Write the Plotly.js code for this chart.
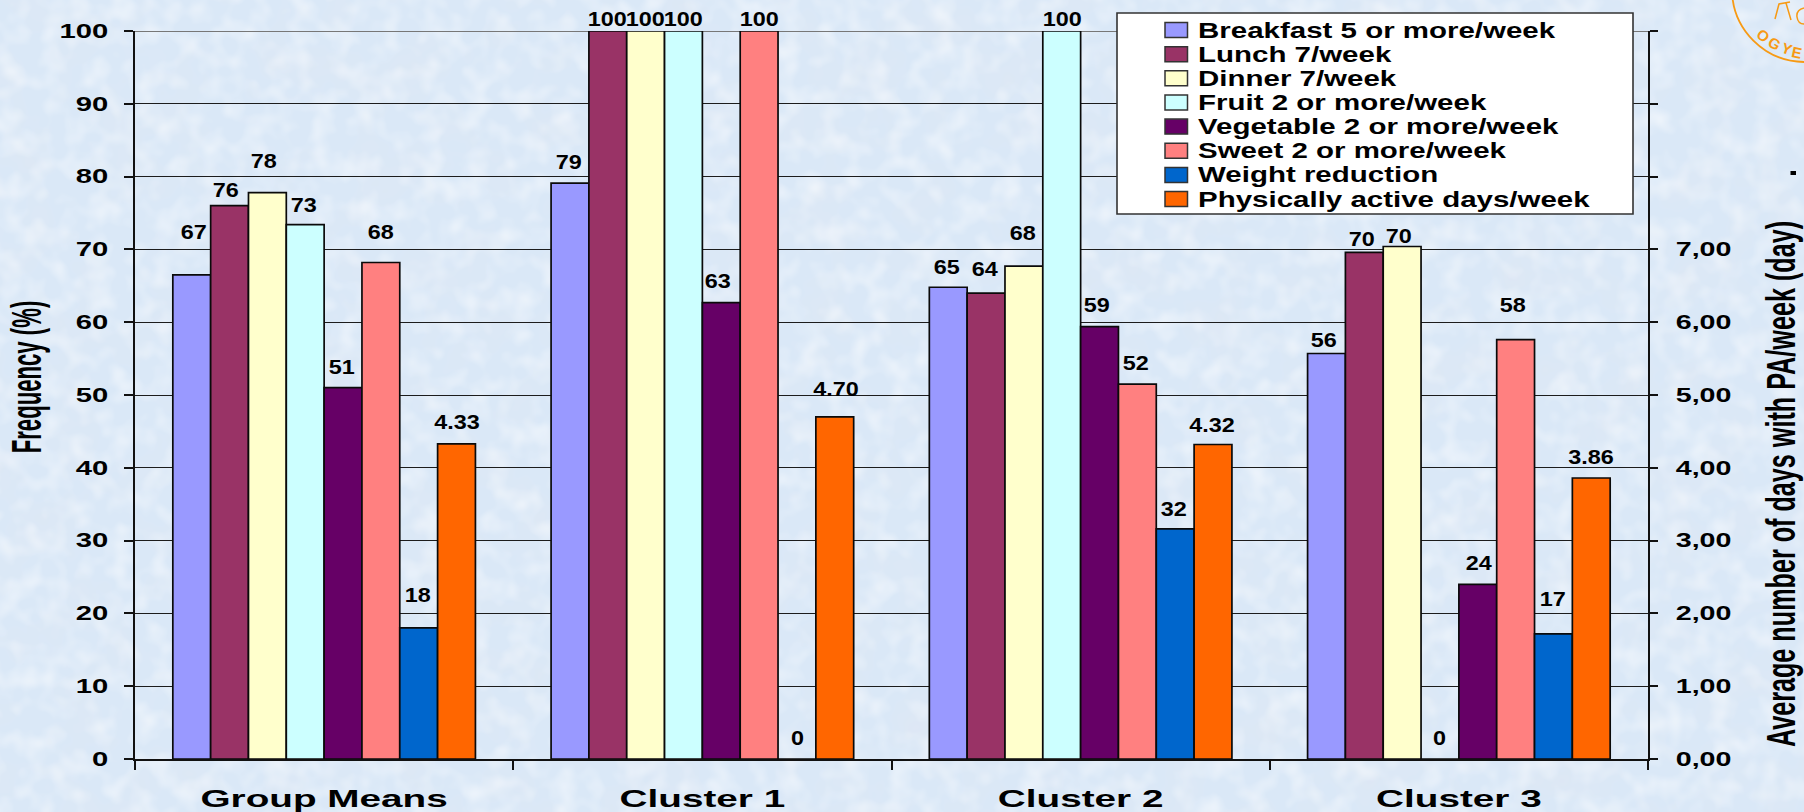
<!DOCTYPE html>
<html>
<head>
<meta charset="utf-8">
<title>Meal frequency and physical activity by cluster</title>
<script src="https://cdn.plot.ly/plotly-3.0.1.min.js"></script>
<style>
  html, body { margin: 0; padding: 0; width: 1804px; height: 812px; overflow: hidden; background: #dce9f7; }
  #paper { position: absolute; left: 0; top: 0; }
  #chart { position: absolute; left: 0; top: 0; width: 1804px; height: 812px; }
</style>
</head>
<body>
<!-- mottled pale blue paper behind the chart -->
<svg id="paper" width="1804" height="812" xmlns="http://www.w3.org/2000/svg">
  <filter id="mottle" x="0" y="0" width="100%" height="100%">
    <feTurbulence type="fractalNoise" baseFrequency="0.02" numOctaves="3" seed="7"/>
    <feColorMatrix type="matrix" values="0 0 0 0 0.74  0 0 0 0 0.80  0 0 0 0 0.90  0 0 0 1.3 -0.56"/>
  </filter>
  <filter id="glow" x="0" y="0" width="100%" height="100%">
    <feTurbulence type="fractalNoise" baseFrequency="0.045" numOctaves="2" seed="21"/>
    <feColorMatrix type="matrix" values="0 0 0 0 1  0 0 0 0 1  0 0 0 0 1  0 0 0 1.0 -0.42"/>
  </filter>
  <rect width="1804" height="812" fill="#dae8f7"/>
  <rect width="1804" height="812" filter="url(#mottle)"/>
  <rect width="1804" height="812" filter="url(#glow)"/>
</svg>
<div id="chart"></div>
<script>
// Chart values
const clusters = ["Group Means", "Cluster 1", "Cluster 2", "Cluster 3"];
const seriesNames = [
  "Breakfast 5 or more/week", "Lunch 7/week", "Dinner 7/week", "Fruit 2 or more/week",
  "Vegetable 2 or more/week", "Sweet 2 or more/week", "Weight reduction", "Physically active days/week"
];
const breakfast = [66.5, 79.1, 64.8, 55.7];
const lunch     = [76.0, 100, 64.0, 69.6];
const dinner    = [77.8, 100, 67.7, 70.4];
const fruit     = [73.4, 100, 100, 0];
const vegetable = [51.0, 62.7, 59.4, 24.0];
const sweet     = [68.2, 100, 51.5, 57.6];
const weightRed = [18.0, 0, 31.6, 17.2];
const activeDays = [4.33, 4.70, 4.32, 3.86];
const seriesValues = [breakfast, lunch, dinner, fruit, vegetable, sweet, weightRed, activeDays];

const seriesColors = ["#9999FF", "#993366", "#FFFFCC", "#CCFFFF", "#660066", "#FF8080", "#0066CC", "#FF6600"];
const leftTicks = [0, 10, 20, 30, 40, 50, 60, 70, 80, 90, 100];
const rightTicks = [0, 1, 2, 3, 4, 5, 6, 7, 8, 9, 10];
const rightTickLabels = ["0,00", "1,00", "2,00", "3,00", "4,00", "5,00", "6,00", "7,00", "", "", ""];

// Hand placement of the value labels: lift above the bar top and sideways nudge, in pixels,
// one row per series, one column per cluster.
const labelLift = [
  [43, 21, 20, 14], [16, 12, 24, 13], [32, 12, 33, 10], [20, 12, 12, 21],
  [21, 22, 22, 21], [31, 12, 21, 35], [33, 21, 20, 35], [22, 28, 20, 21]
];
const labelNudge = [
  [2, -1, -1, -2], [-4, 0, -1, -2], [-3, 0, -1, -3], [-1, 0, 1, 0],
  [-1, -3, -3, 1], [0, 0, -1, -3], [-1, 1, -1, 0], [0, 1, -1, 0]
];

// Plot frame, in page pixels
const W = 1804, H = 812, L = 135, R = 1648, T = 31, B = 759;
const px = x => (x - L) / (R - L);
const py = y => (B - y) / (B - T);
const BOLD = { family: "Liberation Sans, Arial, sans-serif", weight: 700, color: "#000" };

const barWidth = 0.1;
const traces = seriesNames.map((name, i) => ({
  type: "bar",
  name,
  x: clusters,
  y: seriesValues[i],
  yaxis: i === 7 ? "y2" : "y",
  width: barWidth,
  offset: -0.4 + i * barWidth,
  marker: { color: seriesColors[i], line: { color: "#0a0a0a", width: 1.7 } },
  showlegend: false,
  hoverinfo: "name+y"
}));

const annotations = [];
const stretchPlan = [];   // horizontal stretch and anchor side for each annotation

function addText(spec, sx, anchor) {
  annotations.push(Object.assign({ showarrow: false, captureevents: false }, spec));
  stretchPlan.push({ sx, anchor });
}

// Value labels above each bar
seriesValues.forEach((vals, s) => {
  vals.forEach((v, c) => {
    addText({
      text: s === 7 ? v.toFixed(2) : String(Math.round(v)),
      xref: "x", yref: s === 7 ? "y2" : "y",
      x: c - 0.4 + (s + 0.5) * barWidth, y: v,
      xanchor: "center", yanchor: "middle",
      xshift: labelNudge[s][c], yshift: labelLift[s][c],
      font: Object.assign({}, BOLD, { size: 19.5 })
    }, 1.2, "center");
  });
});

// Legend box, swatches and entries
const shapes = [
  { type: "line", xref: "paper", yref: "y", x0: 0, x1: 1, y0: 100, y1: 100, layer: "below",
    line: { color: "#777", width: 2 } },
  { type: "rect", xref: "paper", yref: "paper", x0: px(1117), x1: px(1633), y0: py(214), y1: py(13),
    fillcolor: "#fff", line: { color: "#333", width: 1.6 }, layer: "above" }
];
seriesNames.forEach((name, i) => {
  const cy = 30 + i * 24.15;
  shapes.push({ type: "rect", xref: "paper", yref: "paper",
    x0: px(1165), x1: px(1187.5), y0: py(cy + 7.5), y1: py(cy - 7.5),
    fillcolor: seriesColors[i], line: { color: "#333", width: 1.5 }, layer: "above" });
  addText({
    text: name, xref: "paper", yref: "paper", x: px(1196), y: py(cy),
    xanchor: "left", yanchor: "middle",
    font: Object.assign({}, BOLD, { size: 22 })
  }, 1.34, "left");
});

// Corner stamp and the small stray mark by the right-hand title
const stampColor = "#F79A14";
shapes.push(
  { type: "circle", xref: "paper", yref: "paper", x0: px(1732), x1: px(1878), y0: py(62), y1: py(-84),
    line: { color: stampColor, width: 1.8 }, layer: "above" },
  { type: "path", xref: "paper", yref: "paper", layer: "above", line: { color: stampColor, width: 1.5 },
    path: `M${px(1775)},${py(19)} L${px(1779)},${py(4)} L${px(1790)},${py(2)} M${px(1786)},${py(3)} L${px(1791)},${py(20)}
           M${px(1804)},${py(8)} Q${px(1796)},${py(10)} ${px(1797)},${py(17)} Q${px(1798)},${py(24)} ${px(1804)},${py(24)}` },
  { type: "rect", xref: "paper", yref: "paper", x0: px(1790.5), x1: px(1796), y0: py(175), y1: py(171),
    fillcolor: "#000", line: { width: 0 }, layer: "above" }
);
[["O", 1763, 36, 40], ["G", 1775, 43, 30], ["Y", 1787, 48, 20], ["E", 1797, 52, 12]].forEach(([t, x, y, a]) => {
  addText({
    text: t, xref: "paper", yref: "paper", x: px(x), y: py(y), xanchor: "center", yanchor: "middle",
    textangle: a, font: { family: "Liberation Sans, Arial, sans-serif", size: 15, color: stampColor }
  }, 1, "center");
});

const axisLine = { showline: true, linecolor: "#111", linewidth: 1.6, tickcolor: "#111", tickwidth: 1.6 };

const layout = {
  width: W, height: H,
  margin: { l: L, r: W - R, t: T, b: H - B, pad: 0 },
  paper_bgcolor: "rgba(0,0,0,0)",
  plot_bgcolor: "rgba(0,0,0,0)",
  barmode: "overlay",
  showlegend: false,
  font: BOLD,
  xaxis: Object.assign({
    type: "category", range: [-0.5, 3.5], categoryorder: "array", categoryarray: clusters,
    tickson: "boundaries", ticks: "outside", ticklen: 9, showgrid: false, zeroline: false,
    ticklabelstandoff: 17,
    tickfont: Object.assign({}, BOLD, { size: 24.5 })
  }, axisLine),
  yaxis: Object.assign({
    range: [0, 100], tickmode: "array", tickvals: leftTicks, ticks: "outside", ticklen: 9,
    showgrid: true, gridcolor: "#1c1c1c", gridwidth: 1.4, zeroline: false,
    ticklabelstandoff: 12,
    tickfont: Object.assign({}, BOLD, { size: 19.5 }),
    title: { text: "Frequency (%)", font: Object.assign({}, BOLD, { size: 43 }), standoff: 62 }
  }, axisLine),
  yaxis2: Object.assign({
    overlaying: "y", side: "right", anchor: "x", range: [0, 10],
    tickmode: "array", tickvals: rightTicks, ticktext: rightTickLabels,
    ticks: "outside", ticklen: 8, showgrid: false, zeroline: false,
    ticklabelstandoff: 14,
    tickfont: Object.assign({}, BOLD, { size: 19.5 }),
    title: { text: "Average number of days with PA/week (day)", font: Object.assign({}, BOLD, { size: 41.5 }), standoff: 110 }
  }, axisLine),
  shapes,
  annotations
};

// The artwork is set wider than normal type: stretch a text node along its own baseline
// about the chosen edge, with an optional screen-space move.
function stretch(el, sx, anchor, dx, dy) {
  const b = el.getBBox();
  if (!b.width) return;
  const ox = anchor === "left" ? b.x : anchor === "right" ? b.x + b.width : b.x + b.width / 2;
  const prev = el.getAttribute("transform") || "";
  const move = (dx || dy) ? `translate(${dx || 0},${dy || 0}) ` : "";
  el.setAttribute("transform", `${move}${prev} translate(${ox},0) scale(${sx},1) translate(${-ox},0)`);
}

Plotly.newPlot("chart", traces, layout, { displayModeBar: false, responsive: false }).then(() => {
  const root = document.getElementById("chart");
  root.querySelectorAll(".ytick text").forEach(t => stretch(t, 1.5, "right"));
  root.querySelectorAll(".y2tick text").forEach(t => stretch(t, 1.47, "left"));
  root.querySelectorAll(".xtick text").forEach(t => stretch(t, 1.58, "center"));
  root.querySelectorAll(".annotation").forEach(a => {
    const plan = stretchPlan[+a.getAttribute("data-index")];
    const t = a.querySelector("text");
    if (plan && plan.sx !== 1 && t) stretch(t, plan.sx, plan.anchor);
  });
  const yt = root.querySelector(".ytitle");
  if (yt) stretch(yt, 0.515, "center", 2, -18);
  const y2t = root.querySelector(".y2title");
  if (y2t) stretch(y2t, 0.607, "center", 0, 89);
});
</script>
</body>
</html>
